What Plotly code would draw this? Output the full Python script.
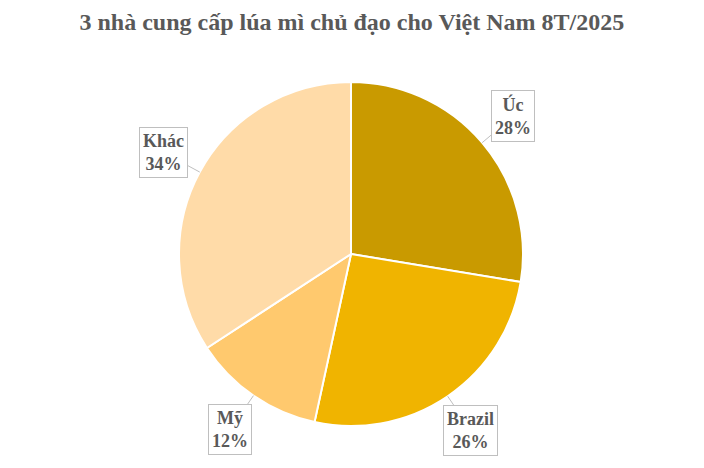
import math
import plotly.graph_objects as go

countries = ["Úc", "Brazil", "Mỹ", "Khác"]
shares = [27.6, 25.8, 12.4, 34.2]
colors = ["#C99A00", "#F0B400", "#FFC96E", "#FFDBA8"]

# page body has an 8px margin, so the figure is a bit smaller than the window
W, H = 696, 460
mt, mb, ml, mr = 74, 42, 0, 10
pw, ph = W - ml - mr, H - mt - mb
R = ph / 2

fig = go.Figure(go.Pie(
    labels=countries, values=shares, sort=False, direction="clockwise", rotation=0,
    marker=dict(colors=colors, line=dict(color="white", width=2)),
    textinfo="none", hoverinfo="label+percent", showlegend=False,
    domain=dict(x=[0, 1], y=[0, 1]),
))

# label boxes placed along each slice's mid angle
total = sum(shares)
start = 0
for name, v in zip(countries, shares):
    mid = (start + v / 2) / total * 2 * math.pi
    start += v
    tipx = 0.5 + R * math.sin(mid) / pw
    tipy = 0.5 + R * math.cos(mid) / ph
    fig.add_annotation(
        x=tipx, y=tipy, xref="paper", yref="paper",
        text=f"{name}<br>{round(v / total * 100)}%",
        showarrow=True, arrowhead=0, arrowwidth=1, arrowcolor="#BFBFBF",
        ax=41 * math.sin(mid), ay=-41 * math.cos(mid),
        font=dict(family="Liberation Serif", size=18, color="#595959", weight="bold"),
        bordercolor="#BFBFBF", borderwidth=1, borderpad=3, bgcolor="white",
    )

fig.update_layout(
    width=W, height=H,
    margin=dict(t=mt, b=mb, l=ml, r=mr),
    paper_bgcolor="white", plot_bgcolor="white",
    title=dict(text="3 nhà cung cấp lúa mì chủ đạo cho Việt Nam 8T/2025",
               x=0.494, xanchor="center", y=0.97, yanchor="middle",
               font=dict(family="Liberation Serif", size=24, color="#595959", weight="bold")),
)

fig.write_html("out.html")
